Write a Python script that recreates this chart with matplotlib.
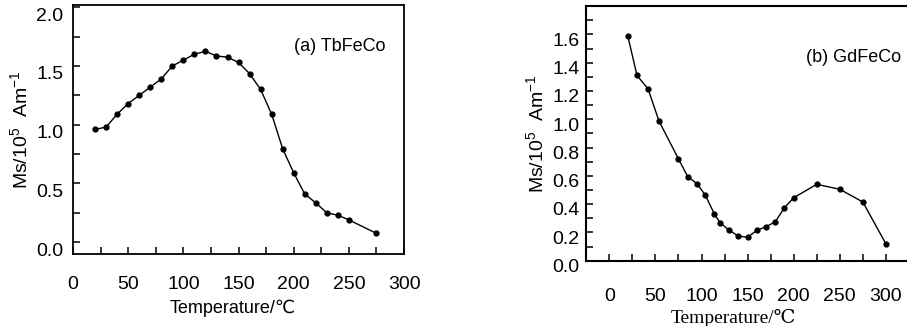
from matplotlib import pyplot as plt
from matplotlib.ticker import MultipleLocator
from matplotlib.transforms import ScaledTranslation
import numpy as np

# (a) TbFeCo
temp_a = [20, 30, 40, 50, 60, 70, 80, 90, 100, 110, 120, 130, 140, 150,
          160, 170, 180, 190, 200, 210, 220, 230, 240, 250, 275]
ms_a = [0.96, 0.98, 1.09, 1.18, 1.25, 1.32, 1.39, 1.50, 1.55, 1.60, 1.625,
        1.585, 1.575, 1.53, 1.435, 1.30, 1.09, 0.795, 0.59, 0.41, 0.335,
        0.25, 0.23, 0.19, 0.075]

# (b) GdFeCo
temp_b = [20, 30, 42, 54, 75, 85, 95, 104, 114, 120, 130, 140, 150, 160,
          170, 180, 190, 200, 225, 250, 275, 300]
ms_b = [1.59, 1.31, 1.215, 0.985, 0.72, 0.595, 0.545, 0.465, 0.33, 0.27,
        0.215, 0.175, 0.165, 0.215, 0.24, 0.275, 0.375, 0.445, 0.54, 0.505,
        0.415, 0.12]

sans = ['Liberation Sans', 'DejaVu Sans']
serif = ['Liberation Serif', 'DejaVu Serif']
plt.rcParams['font.family'] = sans
plt.rcParams['mathtext.fontset'] = 'custom'
plt.rcParams['mathtext.rm'] = 'Liberation Sans'
plt.rcParams['mathtext.it'] = 'Liberation Sans'

fig = plt.figure(figsize=(9.07, 3.26), dpi=100)
ylab = r'Ms/10$^{5}$  Am$^{-1}$'


def shift_ylabels(ax, dy):
    """move y tick labels down a little, as in the scanned figure"""
    off = ScaledTranslation(0, -dy / 72, fig.dpi_scale_trans)
    for lab in ax.get_yticklabels():
        lab.set_transform(lab.get_transform() + off)


def style(ax, xpad, ypad, lw):
    for s in ax.spines.values():
        s.set_linewidth(lw)
    ax.tick_params(which='both', direction='in', labelsize=14, width=1.1,
                   length=5)
    ax.tick_params(axis='x', pad=xpad)
    ax.tick_params(axis='y', pad=ypad)


# left panel
ax1 = fig.add_axes([0.0805, 0.221, 0.365, 0.764])
ax1.plot(temp_a, ms_a, color='black', lw=1.0, marker='o', ms=3.5)
ax1.set_xlim(0, 300)
ax1.set_ylim(-0.1, 2.02)
ax1.set_xticks(np.arange(0, 301, 50))
ax1.xaxis.set_minor_locator(MultipleLocator(25))
ax1.set_yticks(np.arange(0, 2.01, 0.5))
ax1.set_yticklabels(['0.0', '0.5', '1.0', '1.5', '2.0'])
ax1.yaxis.set_minor_locator(MultipleLocator(0.25))
style(ax1, 16, 7, 1.3)
shift_ylabels(ax1, 5)
ax1.set_ylabel(ylab, fontsize=14)
ax1.yaxis.set_label_coords(-0.128, 0.5)
ax1.set_xlabel('Temperature/℃', fontsize=13)
ax1.xaxis.set_label_coords(0.483, -0.185)
ax1.text(0.807, 0.831, '(a) TbFeCo', transform=ax1.transAxes,
         fontsize=13, ha='center', va='center')

# right panel
ax2 = fig.add_axes([0.6464, 0.2003, 0.3557, 0.781])
ax2.plot(temp_b, ms_b, color='black', lw=1.0, marker='o', ms=3.5)
ax2.set_xlim(-25, 325)
ax2.set_ylim(0, 1.8)
ax2.set_xticks(np.arange(0, 301, 50))
ax2.xaxis.set_minor_locator(MultipleLocator(25))
ax2.set_yticks(np.arange(0, 1.61, 0.2))
ax2.set_yticklabels(['%.1f' % v for v in np.arange(0, 1.61, 0.2)])
ax2.yaxis.set_minor_locator(MultipleLocator(0.1))
style(ax2, 20, 5, 1.5)
ax2.spines['right'].set_visible(False)
shift_ylabels(ax2, 3.5)
ax2.set_ylabel(ylab, fontsize=14)
ax2.yaxis.set_label_coords(-0.122, 0.5)
ax2.set_xlabel('Temperature/℃', fontsize=14, family=serif)
ax2.xaxis.set_label_coords(0.455, -0.19)
ax2.text(0.827, 0.80, '(b) GdFeCo', transform=ax2.transAxes,
         fontsize=13, ha='center', va='center')

plt.savefig('out.png', dpi=100)
